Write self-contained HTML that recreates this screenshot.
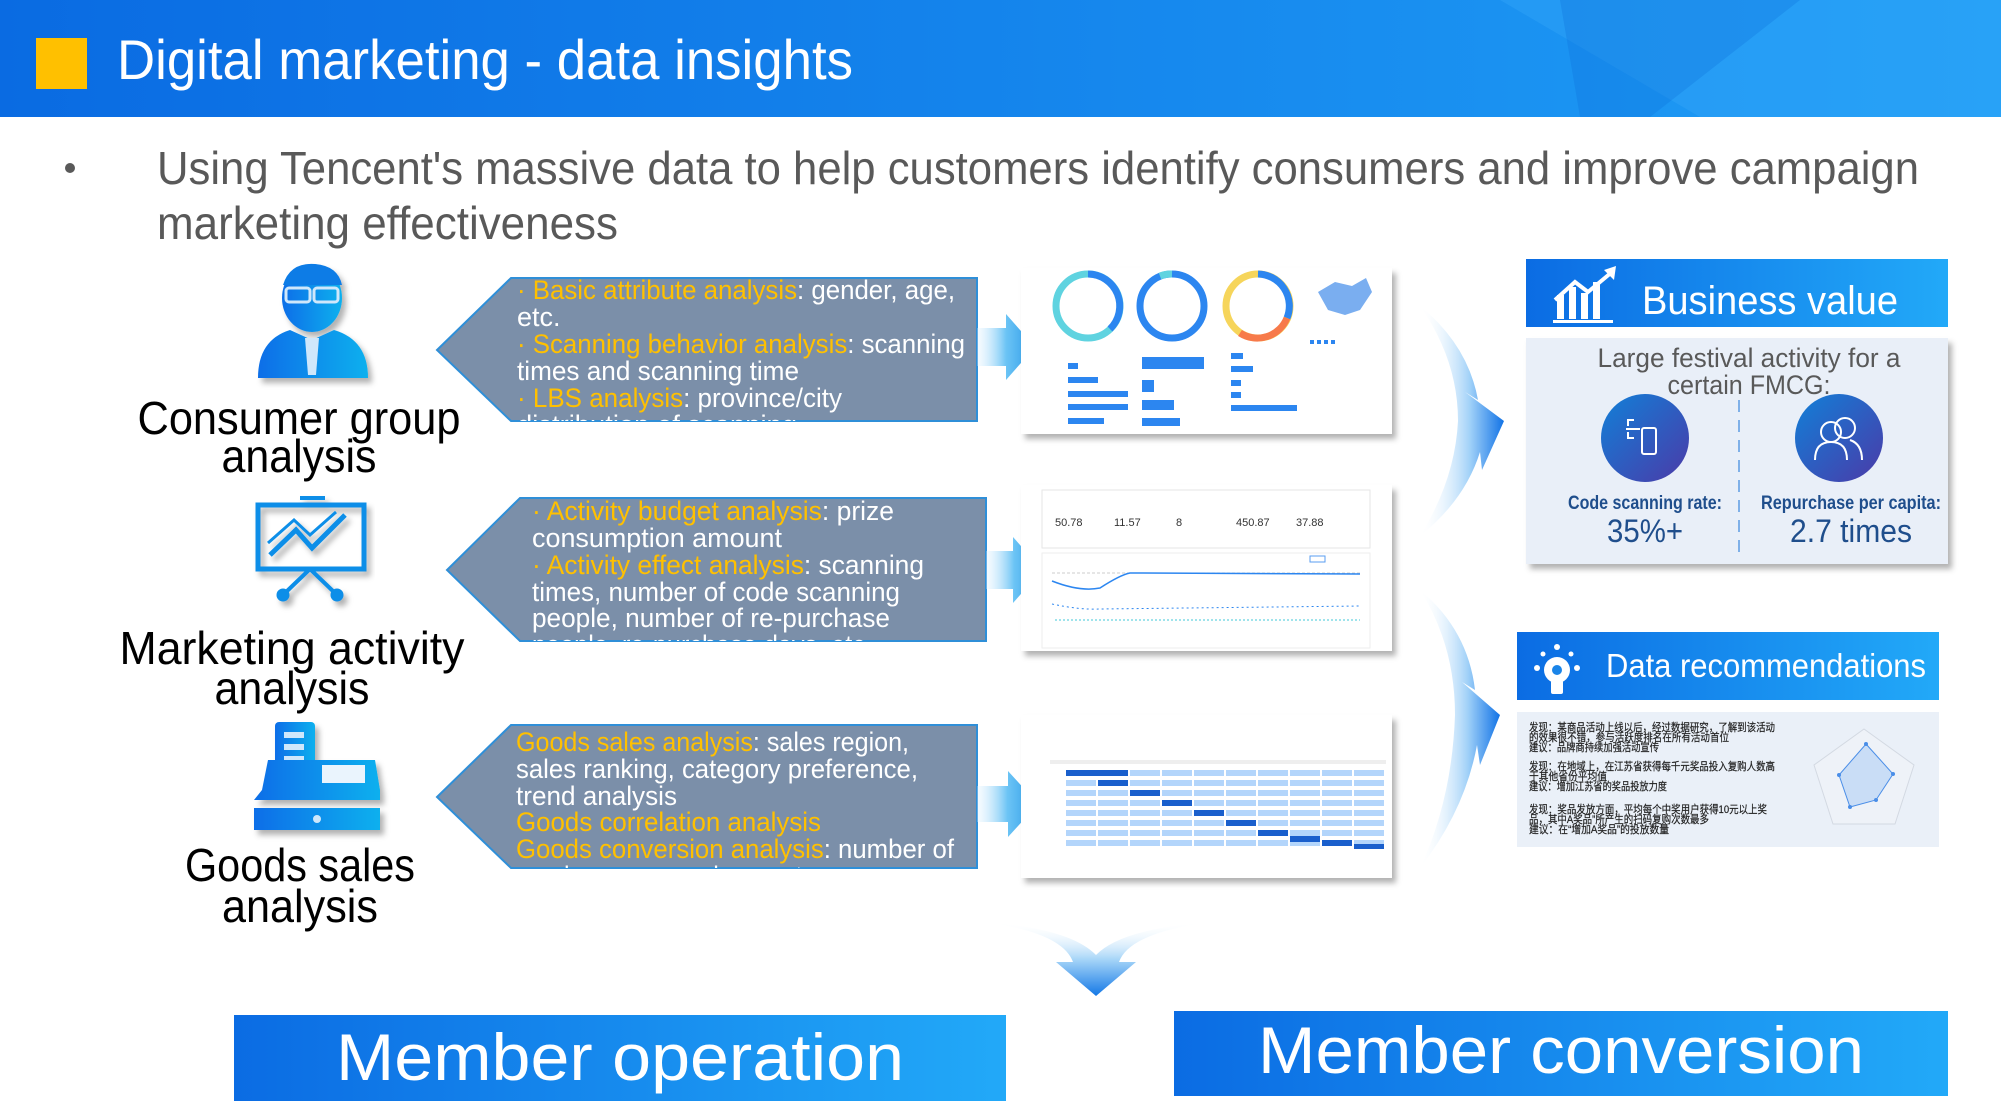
<!DOCTYPE html>
<html><head><meta charset="utf-8">
<style>
html,body{margin:0;padding:0;background:#fff;}
svg{display:block;font-family:"Liberation Sans","Noto Sans CJK SC",sans-serif;}
</style></head>
<body>
<svg width="2001" height="1101" viewBox="0 0 2001 1101" xmlns="http://www.w3.org/2000/svg">
<defs>
 <linearGradient id="hdr" x1="0" y1="0" x2="1" y2="0"><stop offset="0" stop-color="#0a6be2"/><stop offset="1" stop-color="#1f9ef6"/></linearGradient>
 <linearGradient id="box" x1="0" y1="0" x2="1" y2="0"><stop offset="0" stop-color="#0b6ce3"/><stop offset="1" stop-color="#22a9f8"/></linearGradient>
 <linearGradient id="ico" x1="0" y1="0" x2="1" y2="0"><stop offset="0" stop-color="#0a6ee8"/><stop offset="1" stop-color="#08b0ee"/></linearGradient>
 <linearGradient id="sarr" x1="0" y1="0" x2="1" y2="0"><stop offset="0" stop-color="#e6f4ff" stop-opacity="0.3"/><stop offset="0.5" stop-color="#6cc4f5"/><stop offset="1" stop-color="#2a9ae8"/></linearGradient>
 <linearGradient id="carr" x1="0" y1="0" x2="1" y2="0"><stop offset="0" stop-color="#ffffff" stop-opacity="0"/><stop offset="0.6" stop-color="#9fd0f8"/><stop offset="1" stop-color="#1273e6"/></linearGradient>
 <linearGradient id="darr" x1="0" y1="0" x2="0" y2="1"><stop offset="0" stop-color="#ffffff" stop-opacity="0"/><stop offset="0.5" stop-color="#a8d6f8"/><stop offset="1" stop-color="#1478e6"/></linearGradient>
 <linearGradient id="circ" x1="0" y1="0" x2="1" y2="1"><stop offset="0" stop-color="#1180d8"/><stop offset="1" stop-color="#4b3aa8"/></linearGradient>
 <filter id="sh" x="-5%" y="-5%" width="115%" height="120%"><feDropShadow dx="4" dy="5" stdDeviation="3" flood-color="#000" flood-opacity="0.3"/></filter>
 <clipPath id="c1"><rect x="437" y="278" width="540" height="143"/></clipPath>
 <clipPath id="c2"><rect x="447" y="498" width="539" height="143"/></clipPath>
 <clipPath id="c3"><rect x="437" y="725" width="540" height="143"/></clipPath>
</defs>

<rect x="0" y="0" width="2001" height="117" fill="url(#hdr)"/>
<polygon points="1500,0 2001,0 2001,117 1700,117" fill="#3aa8f8" opacity="0.35"/>
<polygon points="1560,0 1800,0 1650,117 1580,117" fill="#0c6fdc" opacity="0.3"/>
<rect x="36" y="38" width="51" height="51" fill="#ffc000"/>
<text x="117" y="79" font-size="56" fill="#fff" textLength="736" lengthAdjust="spacingAndGlyphs">Digital marketing - data insights</text>

<circle cx="70" cy="168" r="5" fill="#595959"/>
<text x="157" y="184" font-size="46" fill="#595959" textLength="1762" lengthAdjust="spacingAndGlyphs">Using Tencent's massive data to help customers identify consumers and improve campaign</text>
<text x="157" y="239" font-size="46" fill="#595959" textLength="461" lengthAdjust="spacingAndGlyphs">marketing effectiveness</text>

<g filter="url(#sh)" fill="url(#ico)">
 <ellipse cx="312" cy="298" rx="30" ry="34"/>
 <path d="M283,285 Q290,262 315,264 Q338,266 342,285 Z" fill="#0d7be6"/>
 <rect x="286" y="288" width="24" height="14" rx="3" fill="none" stroke="#cfe7fb" stroke-width="3"/>
 <rect x="314" y="288" width="24" height="14" rx="3" fill="none" stroke="#cfe7fb" stroke-width="3"/>
 <path d="M258,378 Q258,340 290,330 L312,340 L334,330 Q368,340 368,378 Z"/>
 <path d="M305,338 L319,338 L316,375 L308,375 Z" fill="#cfe7fb"/>
</g>
<g filter="url(#sh)" stroke="#0a8ee8" fill="none">
 <line x1="300" y1="498" x2="325" y2="498" stroke-width="4"/>
 <rect x="258" y="505" width="106" height="64" stroke-width="5"/>
 <polyline points="270,555 296,530 312,548 345,515" stroke-width="5"/>
 <polyline points="268,543 294,520 310,535 336,512" stroke-width="3"/>
 <line x1="310" y1="569" x2="285" y2="593" stroke-width="4"/>
 <line x1="310" y1="569" x2="335" y2="593" stroke-width="4"/>
 <circle cx="283" cy="595" r="6" fill="#0a8ee8"/>
 <circle cx="337" cy="595" r="6" fill="#0a8ee8"/>
</g>
<g filter="url(#sh)" fill="url(#ico)">
 <rect x="275" y="722" width="40" height="60" rx="4"/>
 <rect x="284" y="732" width="20" height="6" fill="#cfe7fb"/><rect x="284" y="744" width="20" height="6" fill="#cfe7fb"/><rect x="284" y="756" width="20" height="6" fill="#cfe7fb"/>
 <path d="M262,790 L268,760 L375,760 L380,790 L380,800 L254,800 Z"/>
 <rect x="322" y="765" width="43" height="18" fill="#eaf4fd"/>
 <rect x="254" y="808" width="126" height="22"/>
 <circle cx="317" cy="819" r="4" fill="#cfe7fb"/>
</g>

<g font-size="46" fill="#000" text-anchor="middle">
 <text x="299" y="434" textLength="323" lengthAdjust="spacingAndGlyphs">Consumer group</text>
 <text x="299" y="472" textLength="155" lengthAdjust="spacingAndGlyphs">analysis</text>
 <text x="292" y="664" textLength="345" lengthAdjust="spacingAndGlyphs">Marketing activity</text>
 <text x="292" y="704" textLength="155" lengthAdjust="spacingAndGlyphs">analysis</text>
 <text x="300" y="881" textLength="230" lengthAdjust="spacingAndGlyphs">Goods sales</text>
 <text x="300" y="922" textLength="156" lengthAdjust="spacingAndGlyphs">analysis</text>
</g>

<polygon points="437,350 511,278 977,278 977,421 511,421" fill="#7b8fa9" stroke="#2f8fd8" stroke-width="2"/>
<polygon points="447,570 520,498 986,498 986,641 520,641" fill="#7b8fa9" stroke="#2f8fd8" stroke-width="2"/>
<polygon points="437,797 511,725 977,725 977,868 511,868" fill="#7b8fa9" stroke="#2f8fd8" stroke-width="2"/>
<g font-size="27" fill="#fff">
 <g clip-path="url(#c1)">
  <text x="517" y="299" textLength="438" lengthAdjust="spacingAndGlyphs"><tspan fill="#ffc000">· Basic attribute analysis</tspan>: gender, age,</text>
  <text x="517" y="326">etc.</text>
  <text x="517" y="353" textLength="448" lengthAdjust="spacingAndGlyphs"><tspan fill="#ffc000">· Scanning behavior analysis</tspan>: scanning</text>
  <text x="517" y="380" textLength="282" lengthAdjust="spacingAndGlyphs">times and scanning time</text>
  <text x="517" y="407" textLength="325" lengthAdjust="spacingAndGlyphs"><tspan fill="#ffc000">· LBS analysis</tspan>: province/city</text>
  <text x="517" y="434" textLength="280" lengthAdjust="spacingAndGlyphs">distribution of scanning</text>
 </g>
 <g clip-path="url(#c2)">
  <text x="532" y="520" textLength="362" lengthAdjust="spacingAndGlyphs"><tspan fill="#ffc000">· Activity budget analysis</tspan>: prize</text>
  <text x="532" y="547" textLength="250" lengthAdjust="spacingAndGlyphs">consumption amount</text>
  <text x="532" y="574" textLength="392" lengthAdjust="spacingAndGlyphs"><tspan fill="#ffc000">· Activity effect analysis</tspan>: scanning</text>
  <text x="532" y="601" textLength="368" lengthAdjust="spacingAndGlyphs">times, number of code scanning</text>
  <text x="532" y="627" textLength="358" lengthAdjust="spacingAndGlyphs">people, number of re-purchase</text>
  <text x="532" y="654" textLength="340" lengthAdjust="spacingAndGlyphs">people, re-purchase days, etc.</text>
 </g>
 <g clip-path="url(#c3)">
  <text x="516" y="751" textLength="393" lengthAdjust="spacingAndGlyphs"><tspan fill="#ffc000">Goods sales analysis</tspan>: sales region,</text>
  <text x="516" y="778" textLength="402" lengthAdjust="spacingAndGlyphs">sales ranking, category preference,</text>
  <text x="516" y="805" textLength="161" lengthAdjust="spacingAndGlyphs">trend analysis</text>
  <text x="516" y="831" textLength="305" lengthAdjust="spacingAndGlyphs" fill="#ffc000">Goods correlation analysis</text>
  <text x="516" y="858" textLength="438" lengthAdjust="spacingAndGlyphs"><tspan fill="#ffc000">Goods conversion analysis</tspan>: number of</text>
  <text x="516" y="885" textLength="300" lengthAdjust="spacingAndGlyphs">purchases, repurchase rate</text>
 </g>
</g>

<polygon points="977,328 1006,328 1006,314 1035,347 1006,380 1006,366 977,366" fill="url(#sarr)"/>
<polygon points="986,551 1013,551 1013,537 1042,570 1013,603 1013,589 986,589" fill="url(#sarr)"/>
<polygon points="977,786 1008,786 1008,771 1038,804 1008,837 1008,822 977,822" fill="url(#sarr)"/>

<rect x="1021" y="268" width="371" height="166" fill="#fff" filter="url(#sh)"/>
<g fill="none" stroke-width="7">
 <circle cx="1088" cy="306" r="32" stroke="#5fd3e0"/><path d="M1088,274 A32,32 0 0 1 1110,329" stroke="#2c86f0"/>
 <circle cx="1172" cy="306" r="32" stroke="#2c86f0"/><path d="M1160,276 A32,32 0 0 1 1172,274" stroke="#5fd3e0"/>
 <circle cx="1258" cy="306" r="32" stroke="#f6d55b"/><path d="M1258,274 A32,32 0 0 1 1287,318" stroke="#2c86f0"/><path d="M1287,318 A32,32 0 0 1 1240,333" stroke="#f77a4a"/>
</g>
<path d="M1318,292 L1335,282 L1352,286 L1366,278 L1372,292 L1360,310 L1345,315 L1328,310 Z" fill="#7aaef0"/>
<g fill="#2c86f0">
 <rect x="1068" y="363" width="10" height="6"/><rect x="1068" y="377" width="30" height="6"/><rect x="1068" y="391" width="60" height="6"/><rect x="1068" y="404" width="60" height="6"/><rect x="1068" y="418" width="36" height="6"/>
 <rect x="1142" y="357" width="62" height="12"/><rect x="1142" y="380" width="12" height="12"/><rect x="1142" y="400" width="32" height="10"/><rect x="1142" y="418" width="38" height="8"/>
 <rect x="1231" y="353" width="12" height="6"/><rect x="1231" y="366" width="22" height="6"/><rect x="1231" y="380" width="10" height="6"/><rect x="1231" y="392" width="10" height="6"/><rect x="1231" y="405" width="66" height="6"/>
</g>
<g fill="#2c86f0"><rect x="1310" y="340" width="4" height="4"/><rect x="1317" y="340" width="4" height="4"/><rect x="1324" y="340" width="4" height="4"/><rect x="1331" y="340" width="4" height="4"/></g>

<rect x="1021" y="485" width="371" height="166" fill="#fff" filter="url(#sh)"/>
<rect x="1042" y="490" width="328" height="58" fill="#fff" stroke="#e6e6e6"/>
<g font-size="11" fill="#333"><text x="1055" y="526">50.78</text><text x="1114" y="526">11.57</text><text x="1176" y="526">8</text><text x="1236" y="526">450.87</text><text x="1296" y="526">37.88</text></g>
<rect x="1042" y="553" width="328" height="95" fill="#fff" stroke="#eeeeee"/>
<rect x="1310" y="556" width="15" height="6" fill="none" stroke="#5a9ef0"/>
<line x1="1052" y1="573" x2="1360" y2="573" stroke="#ccc" stroke-dasharray="3,2"/>
<path d="M1052,581 Q1080,592 1100,588 Q1120,575 1130,573 L1360,574" fill="none" stroke="#2c86f0" stroke-width="1.5"/>
<path d="M1052,604 Q1080,610 1100,609 L1360,606" fill="none" stroke="#2c86f0" stroke-dasharray="2,3"/>
<line x1="1055" y1="620" x2="1360" y2="620" stroke="#40c8d8" stroke-dasharray="2,2"/>

<rect x="1021" y="715" width="371" height="163" fill="#fff" filter="url(#sh)"/>
<rect x="1050" y="760" width="336" height="4" fill="#eee"/>
<g fill="#b3d5fb">
 <rect x="1066" y="770" width="318" height="6"/><rect x="1066" y="780" width="318" height="6"/><rect x="1066" y="790" width="318" height="6"/><rect x="1066" y="800" width="318" height="6"/><rect x="1066" y="810" width="318" height="6"/><rect x="1066" y="820" width="318" height="6"/><rect x="1066" y="830" width="318" height="6"/><rect x="1066" y="840" width="318" height="6"/>
</g>
<g stroke="#fff" stroke-width="2"><line x1="1097" y1="768" x2="1097" y2="848"/><line x1="1129" y1="768" x2="1129" y2="848"/><line x1="1161" y1="768" x2="1161" y2="848"/><line x1="1193" y1="768" x2="1193" y2="848"/><line x1="1225" y1="768" x2="1225" y2="848"/><line x1="1257" y1="768" x2="1257" y2="848"/><line x1="1289" y1="768" x2="1289" y2="848"/><line x1="1321" y1="768" x2="1321" y2="848"/><line x1="1353" y1="768" x2="1353" y2="848"/></g>
<g fill="#1a5fcc">
 <rect x="1066" y="770" width="62" height="6"/><rect x="1098" y="780" width="30" height="6"/><rect x="1130" y="790" width="30" height="6"/><rect x="1162" y="800" width="30" height="6"/><rect x="1194" y="810" width="30" height="6"/><rect x="1226" y="820" width="30" height="6"/><rect x="1258" y="830" width="30" height="6"/><rect x="1290" y="836" width="30" height="6"/><rect x="1322" y="840" width="30" height="6"/><rect x="1354" y="844" width="30" height="5"/>
</g>

<path d="M1420,306 Q1468,345 1478,400 L1465,392 L1504,421 L1482,470 L1480,452 Q1465,500 1420,536 Q1455,480 1458,421 Q1458,360 1420,306 Z" fill="url(#carr)"/>
<path d="M1420,590 Q1468,630 1475,690 L1462,682 L1500,715 L1480,765 L1477,745 Q1465,810 1420,868 Q1452,800 1455,715 Q1455,645 1420,590 Z" fill="url(#carr)"/>

<rect x="1526" y="259" width="422" height="68" fill="url(#box)"/>
<g fill="#fff">
 <rect x="1557" y="295" width="7" height="24"/><rect x="1569" y="287" width="7" height="32"/><rect x="1581" y="293" width="7" height="26"/><rect x="1593" y="282" width="7" height="37"/>
 <rect x="1553" y="320" width="60" height="3"/>
</g>
<polyline points="1555,300 1575,282 1588,292 1612,272" stroke="#fff" stroke-width="4" fill="none"/>
<polygon points="1604,270 1616,266 1614,280" fill="#fff"/>
<text x="1642" y="314" font-size="40" fill="#fff" textLength="256" lengthAdjust="spacingAndGlyphs">Business value</text>
<rect x="1526" y="338" width="422" height="226" fill="#e9eff8" filter="url(#sh)"/>
<text x="1749" y="367" font-size="27" fill="#595959" text-anchor="middle" textLength="303" lengthAdjust="spacingAndGlyphs">Large festival activity for a</text>
<text x="1749" y="394" font-size="27" fill="#595959" text-anchor="middle" textLength="163" lengthAdjust="spacingAndGlyphs">certain FMCG:</text>
<line x1="1739" y1="400" x2="1739" y2="552" stroke="#7fb0e8" stroke-width="2" stroke-dasharray="12,8"/>
<circle cx="1645" cy="438" r="44" fill="url(#circ)"/>
<circle cx="1839" cy="438" r="44" fill="url(#circ)"/>
<g stroke="#fff" stroke-width="2" fill="none">
 <rect x="1642" y="428" width="14" height="26" rx="2"/>
 <path d="M1628,426 L1628,420 L1634,420 M1628,432 L1628,438 L1634,438 M1626,429 L1640,429"/>
 <circle cx="1831" cy="432" r="10"/><path d="M1815,460 Q1815,442 1831,442 Q1847,442 1847,460"/>
 <circle cx="1845" cy="428" r="10"/><path d="M1850,440 Q1862,444 1862,460"/>
</g>
<text x="1645" y="509" font-size="19" fill="#1f4e8c" font-weight="bold" text-anchor="middle" textLength="154" lengthAdjust="spacingAndGlyphs">Code scanning rate:</text>
<text x="1645" y="542" font-size="32" fill="#1f4e8c" text-anchor="middle" textLength="76" lengthAdjust="spacingAndGlyphs">35%+</text>
<text x="1851" y="509" font-size="19" fill="#1f4e8c" font-weight="bold" text-anchor="middle" textLength="180" lengthAdjust="spacingAndGlyphs">Repurchase per capita:</text>
<text x="1851" y="542" font-size="32" fill="#1f4e8c" text-anchor="middle" textLength="122" lengthAdjust="spacingAndGlyphs">2.7 times</text>

<rect x="1517" y="632" width="422" height="68" fill="url(#box)"/>
<g fill="#fff">
 <circle cx="1557" cy="670" r="13"/><rect x="1551" y="680" width="12" height="14" rx="2"/>
 <circle cx="1557" cy="647" r="3"/><circle cx="1537" cy="668" r="3"/><circle cx="1577" cy="668" r="3"/><circle cx="1543" cy="654" r="2.5"/><circle cx="1571" cy="654" r="2.5"/>
</g>
<circle cx="1557" cy="670" r="5" fill="#1a84e8"/>
<text x="1606" y="677" font-size="33" fill="#fff" textLength="320" lengthAdjust="spacingAndGlyphs">Data recommendations</text>
<rect x="1517" y="712" width="422" height="135" fill="#eaf0f8"/>
<g font-size="11" fill="#222" stroke="#222" stroke-width="0.2">
 <text x="1529" y="731" textLength="246" lengthAdjust="spacingAndGlyphs">发现：某商品活动上线以后，经过数据研究，了解到该活动</text>
 <text x="1529" y="741" textLength="200" lengthAdjust="spacingAndGlyphs">的效果很不错，参与活跃度排名在所有活动首位</text>
 <text x="1529" y="751" textLength="130" lengthAdjust="spacingAndGlyphs">建议：品牌商持续加强活动宣传</text>
 <text x="1529" y="770" textLength="246" lengthAdjust="spacingAndGlyphs">发现：在地域上，在江苏省获得每千元奖品投入复购人数高</text>
 <text x="1529" y="780" textLength="78" lengthAdjust="spacingAndGlyphs">于其他省份平均值</text>
 <text x="1529" y="790" textLength="138" lengthAdjust="spacingAndGlyphs">建议：增加江苏省的奖品投放力度</text>
 <text x="1529" y="813" textLength="238" lengthAdjust="spacingAndGlyphs">发现：奖品发放方面，平均每个中奖用户获得10元以上奖</text>
 <text x="1529" y="823" textLength="180" lengthAdjust="spacingAndGlyphs">品，其中A奖品”所产生的扫码复购次数最多</text>
 <text x="1529" y="833" textLength="140" lengthAdjust="spacingAndGlyphs">建议：在“增加A奖品”的投放数量</text>
</g>
<polygon points="1864,729 1914,765 1895,824 1833,824 1814,765" fill="#eef2f8" stroke="#d3d9e2"/>
<polygon points="1866,744 1893,774 1876,800 1850,807 1839,775" fill="#c9ddf6" stroke="#4a8ee8"/>
<g fill="#4a8ee8"><circle cx="1866" cy="744" r="2"/><circle cx="1893" cy="774" r="2"/><circle cx="1876" cy="800" r="2"/><circle cx="1850" cy="807" r="2"/><circle cx="1839" cy="775" r="2"/></g>

<path d="M983,922 Q1062,932 1073,962 L1056,962 L1096,996 L1136,962 L1119,962 Q1130,932 1213,922 Q1122,928 1096,955 Q1070,928 983,922 Z" fill="url(#darr)"/>

<rect x="234" y="1015" width="772" height="86" fill="url(#box)"/>
<text x="620" y="1080" font-size="66" fill="#fff" text-anchor="middle" textLength="568" lengthAdjust="spacingAndGlyphs">Member operation</text>
<rect x="1174" y="1011" width="774" height="85" fill="url(#box)"/>
<text x="1561" y="1073" font-size="66" fill="#fff" text-anchor="middle" textLength="606" lengthAdjust="spacingAndGlyphs">Member conversion</text>
</svg>
</body></html>
